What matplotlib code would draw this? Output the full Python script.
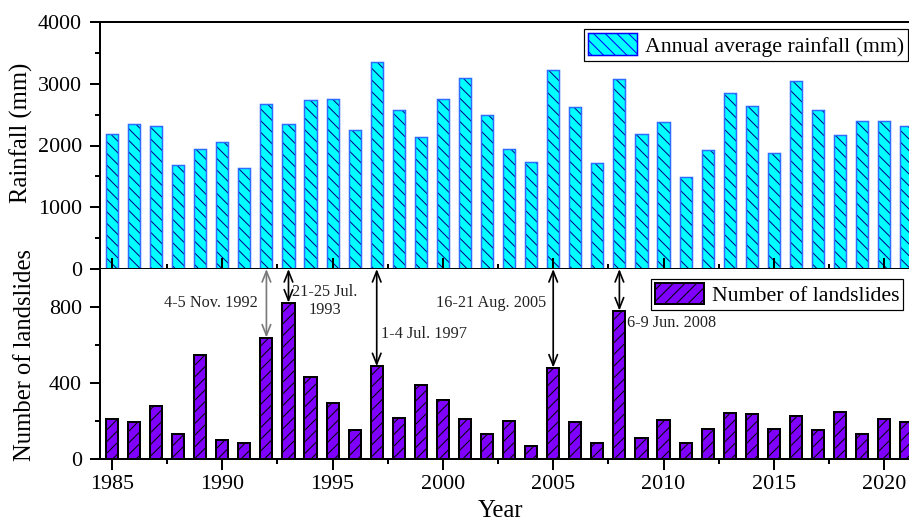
import numpy as np
import matplotlib
matplotlib.use("Agg")
import matplotlib.pyplot as plt
from matplotlib.patches import Patch
from matplotlib.ticker import MultipleLocator

# ---------------- data ----------------
years = list(range(1985, 2022))
rainfall = [2190, 2343, 2320, 1684, 1943, 2051, 1635, 2677, 2343, 2736,
            2758, 2250, 3351, 2569, 2132, 2752, 3097, 2493, 1943, 1738,
            3222, 2628, 1711, 3071, 2180, 2375, 1484, 1921, 2850, 2639,
            1873, 3038, 2574, 2164, 2396, 2396, 2310]
landslides = [209, 195, 279, 132, 549, 98, 86, 639, 823, 433,
              295, 153, 488, 216, 389, 312, 212, 133, 202, 70,
              481, 193, 82, 781, 112, 205, 82, 156, 244, 239,
              160, 228, 153, 249, 133, 212, 196]

events = [
    # (year, text, text_x, text_y, ha, colour)
    (1992, "4-5 Nov. 1992", 1991.62, 821, "right", "#7a7a7a"),
    (1993, "21-25 Jul.\n1993", 1994.66, 833, "center", "black"),
    (1997, "1-4 Jul. 1997", 1997.19, 658, "left", "black"),
    (2005, "16-21 Aug. 2005", 2004.70, 823, "right", "black"),
    (2008, "6-9 Jun. 2008", 2008.33, 717, "left", "black"),
]

rain_label = "Annual average rainfall (mm)"
slide_label = "Number of landslides"

# ---------------- style ----------------
DPI = 140
PT = 72.0 / DPI  # px -> pt
W, H = 909, 523
plt.rcParams['font.family'] = ['Liberation Serif', 'DejaVu Serif']
plt.rcParams['hatch.linewidth'] = 1.0 * PT

HATCH_TOP = '\\' * 4
HATCH_BOT = '/' * 4

fig = plt.figure(figsize=(W / DPI, H / DPI), dpi=DPI)

left = 100 / W
width = 815 / W
ax_top = fig.add_axes([left, (H - 269) / H, width, 247 / H])
ax_bot = fig.add_axes([left, (H - 459) / H, width, 190 / H])

xlim = (1984.456, 2021.40)
bw = 0.55

# --- top: rainfall ---
ax_top.bar(years, rainfall, width=bw, facecolor='#00FFFF', edgecolor='#00008B',
           hatch=HATCH_TOP, linewidth=0, zorder=1)
ax_top.bar(years, rainfall, width=bw, facecolor='none', edgecolor='#2F6BFF',
           linewidth=1.5 * PT, zorder=1.1)
ax_top.set_xlim(*xlim)
ax_top.set_ylim(0, 4000)
ax_top.yaxis.set_major_locator(MultipleLocator(1000))
ax_top.yaxis.set_minor_locator(MultipleLocator(500))
ax_top.xaxis.set_major_locator(MultipleLocator(5))
ax_top.xaxis.set_minor_locator(MultipleLocator(2.5))
ax_top.tick_params(axis='x', which='both', direction='in', labelbottom=False,
                   width=2 * PT)
ax_top.tick_params(axis='x', which='major', length=11 * PT)
ax_top.tick_params(axis='x', which='minor', length=5 * PT)
ax_top.spines['right'].set_visible(False)
ax_top.set_ylabel("Rainfall (mm)", fontsize=24.6 * PT)
ax_top.yaxis.set_label_coords(-0.082, 0.553)

# --- bottom: landslides ---
ax_bot.bar(years, landslides, width=bw, facecolor='#7F00FF', edgecolor='black',
           hatch=HATCH_BOT, linewidth=2 * PT, zorder=1)
ax_bot.set_xlim(*xlim)
ax_bot.set_ylim(0, 1000)
ax_bot.yaxis.set_major_locator(MultipleLocator(400))
ax_bot.yaxis.set_minor_locator(MultipleLocator(200))
ax_bot.xaxis.set_major_locator(MultipleLocator(5))
ax_bot.xaxis.set_minor_locator(MultipleLocator(2.5))
ax_bot.tick_params(axis='x', which='both', direction='out', width=2 * PT)
ax_bot.tick_params(axis='x', which='major', length=11 * PT, pad=5 * PT,
                   labelsize=22 * PT)
ax_bot.tick_params(axis='x', which='minor', length=5 * PT)
ax_bot.spines['right'].set_visible(False)
ax_bot.spines['top'].set_visible(False)
ax_bot.set_ylabel("Number of landslides", fontsize=24.6 * PT)
ax_bot.yaxis.set_label_coords(-0.078, 0.547)
ax_bot.set_xlabel("Year", fontsize=24.6 * PT)
ax_bot.xaxis.set_label_coords(0.491, -0.215)

for ax in (ax_top, ax_bot):
    for s in ('left', 'bottom', 'top'):
        ax.spines[s].set_linewidth(2 * PT)
    ax.tick_params(axis='y', which='both', direction='out', width=2 * PT,
                   labelsize=22 * PT, pad=8 * PT)
    ax.tick_params(axis='y', which='major', length=10 * PT)
    ax.tick_params(axis='y', which='minor', length=5 * PT)

# --- arrows + event labels ---
for yr, txt, tx, ty, ha, col in events:
    val = landslides[years.index(yr)]
    ax_bot.annotate('', xy=(yr, val), xytext=(yr, 1000),
                    arrowprops=dict(arrowstyle='<->,head_length=0.55,head_width=0.22',
                                    color=col, lw=1.7 * PT, shrinkA=0, shrinkB=0),
                    annotation_clip=False, zorder=5)
    ax_bot.text(tx, ty, txt, ha=ha, va='center', multialignment='center',
                fontsize=16.3 * PT, color='#222222', zorder=6)

# --- legends ---
leg_kw = dict(fontsize=21.7 * PT, handlelength=2.26, borderpad=0.18,
              handletextpad=0.35, borderaxespad=0, fancybox=False,
              framealpha=1, edgecolor='black', loc='upper right',
              bbox_transform=fig.transFigure)
h1 = Patch(facecolor='#00FFFF', edgecolor='#0000FF', hatch=HATCH_TOP,
           linewidth=1.5 * PT)
l1 = ax_top.legend([h1], [rain_label], handleheight=1.2,
                   bbox_to_anchor=(908 / W, 1 - 29.3 / H), **leg_kw)
l1.get_frame().set_linewidth(1.2 * PT)
h2 = Patch(facecolor='#7F00FF', edgecolor='black', hatch=HATCH_BOT,
           linewidth=2 * PT)
l2 = ax_bot.legend([h2], [slide_label], handleheight=1.1,
                   bbox_to_anchor=(903 / W, 1 - 279.3 / H), **leg_kw)
l2.get_frame().set_linewidth(1.2 * PT)

fig.savefig("out.png", dpi=DPI)
